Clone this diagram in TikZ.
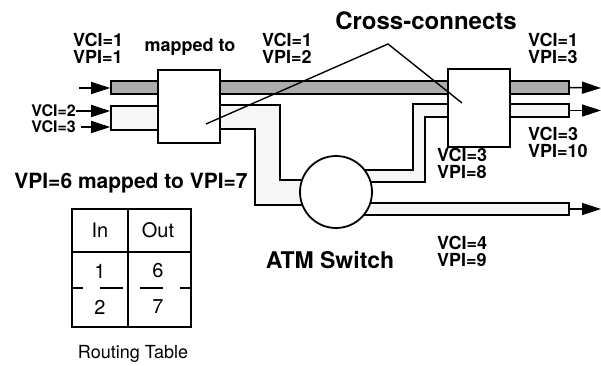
\documentclass[tikz,border=0pt]{standalone}
\usepackage{fontspec}
\setmainfont{TeX Gyre Heros}
\setsansfont{TeX Gyre Heros}
\usetikzlibrary{positioning,arrows.meta}

\begin{document}
\begin{tikzpicture}[
  x=1pt, y=-1pt,
  font=\sffamily,
  lbl/.style={font=\sffamily\bfseries\fontsize{18}{17}\selectfont, align=left, inner sep=0pt},
  vcin/.style={lbl, font=\sffamily\bfseries\fontsize{16}{16}\selectfont, anchor=east, text height=11.5pt, text depth=0pt},
  xbox/.style={draw, line width=1.8pt, fill=white, inner sep=0pt},
  pipedark/.style={draw, line width=1.6pt, fill=gray!65, inner sep=0pt},
  pipelight/.style={draw, line width=1.6pt, fill=gray!7, inner sep=0pt},
  arr/.style={-{Triangle[length=19pt,width=12pt]}, line width=1.5pt},
  ptr/.style={line width=1.4pt},
  tbl/.style={font=\sffamily\fontsize{20}{20}\selectfont, inner sep=0pt}
]
\useasboundingbox (0,0) rectangle (601,365);

% pipes
\node[pipedark, minimum width=458pt, minimum height=13pt] (pTop) at (340,87.5) {};
\node[pipelight, minimum width=59pt, minimum height=24pt] (pIn) at (140.5,118) {};
\node[pipelight, minimum width=69pt, minimum height=13pt] (pOut) at (534.5,110.5) {};
\node[pipelight, minimum width=214pt, minimum height=12pt] (pLow) at (462,209) {};
\draw[pipelight] (210,105) -- (280,105) -- (280,180) -- (312,180) -- (312,205)
  -- (255,205) -- (255,129) -- (210,129) -- cycle;
\draw[pipelight] (358,170) -- (413,170) -- (413,104) -- (458,104) -- (458,117)
  -- (425,117) -- (425,182) -- (358,182) -- cycle;

% switch and cross-connects
\node[circle, draw, line width=1.8pt, fill=white, minimum size=72pt, inner sep=0pt] (sw) at (336,192) {};
\node[xbox, minimum width=62pt, minimum height=73pt] (xcL) at (189,106.5) {};
\node[xbox, minimum width=62pt, minimum height=78pt] (xcR) at (479,108) {};

% labels
\node[lbl, anchor=west] (v11) at (73,48) {VCI=1\\VPI=1};
\node[lbl] (map) at (190,47) {mapped to};
\node[lbl, anchor=west] (v12) at (262,48) {VCI=1\\VPI=2};
\node[lbl, font=\sffamily\bfseries\fontsize{24}{24}\selectfont] (cross) at (426,21) {Cross-connects};
\node[lbl, anchor=west] (v13) at (528,48) {VCI=1\\VPI=3};
\node[lbl, anchor=west] (v310) at (528,142) {VCI=3\\VPI=10};
\node[lbl, anchor=west] (v38) at (437,163) {VCI=3\\VPI=8};
\node[lbl, anchor=west] (v49) at (437,251) {VCI=4\\VPI=9};
\node[lbl, font=\sffamily\bfseries\fontsize{23}{23}\selectfont] (atm) at (330,260) {ATM Switch};
\node[lbl, font=\sffamily\bfseries\fontsize{21}{21}\selectfont] (remap) at (131,183) {VPI=6 mapped to VPI=7};
\node[vcin] (v2) at (76,111) {VCI=2};
\node[vcin] (v3) at (76,127) {VCI=3};

% arrows
\coordinate (inA) at (79,88);
\coordinate (outA) at (601,88);
\coordinate (outB) at (601,110.5);
\coordinate (outC) at (601,209);
\draw[arr] (inA) -- (inA -| pTop.west);
\draw[arr] (v2.east) -- (v2.east -| pIn.west);
\draw[arr] ([xshift=5pt]v3.east) -- (v3.east -| pIn.west);
\draw[arr] (pTop.east) -- (outA);
\draw[arr] (pOut.east) -- (outB);
\draw[arr] (pLow.east) -- (outC);

% cross-connect pointers
\coordinate (apex) at (388,44);
\coordinate (tipL) at (206,124);
\coordinate (tipR) at (462,103);
\draw[ptr] (tipL) -- (apex) -- (tipR);

% routing table
\draw[line width=1.3pt] (72,209) rectangle (191,327);
\draw[line width=1.3pt] (128,209) -- (128,327) (72,252) -- (191,252);
\draw[line width=1.3pt] (72,288) -- (83,288) (100,288) -- (123,288)
  (140,288) -- (163,288) (180,288) -- (191,288);
\node[tbl] (tIn) at (100,230) {In};
\node[tbl] (tOut) at (158,230) {Out};
\node[tbl] (t1) at (100,271) {1};
\node[tbl] (t2) at (100,307) {2};
\node[tbl] (t6) at (158,271) {6};
\node[tbl] (t7) at (158,307) {7};
\node[font=\sffamily\fontsize{18}{18}\selectfont, inner sep=0pt] (rt) at (133,354) {Routing Table};
\end{tikzpicture}
\end{document}
